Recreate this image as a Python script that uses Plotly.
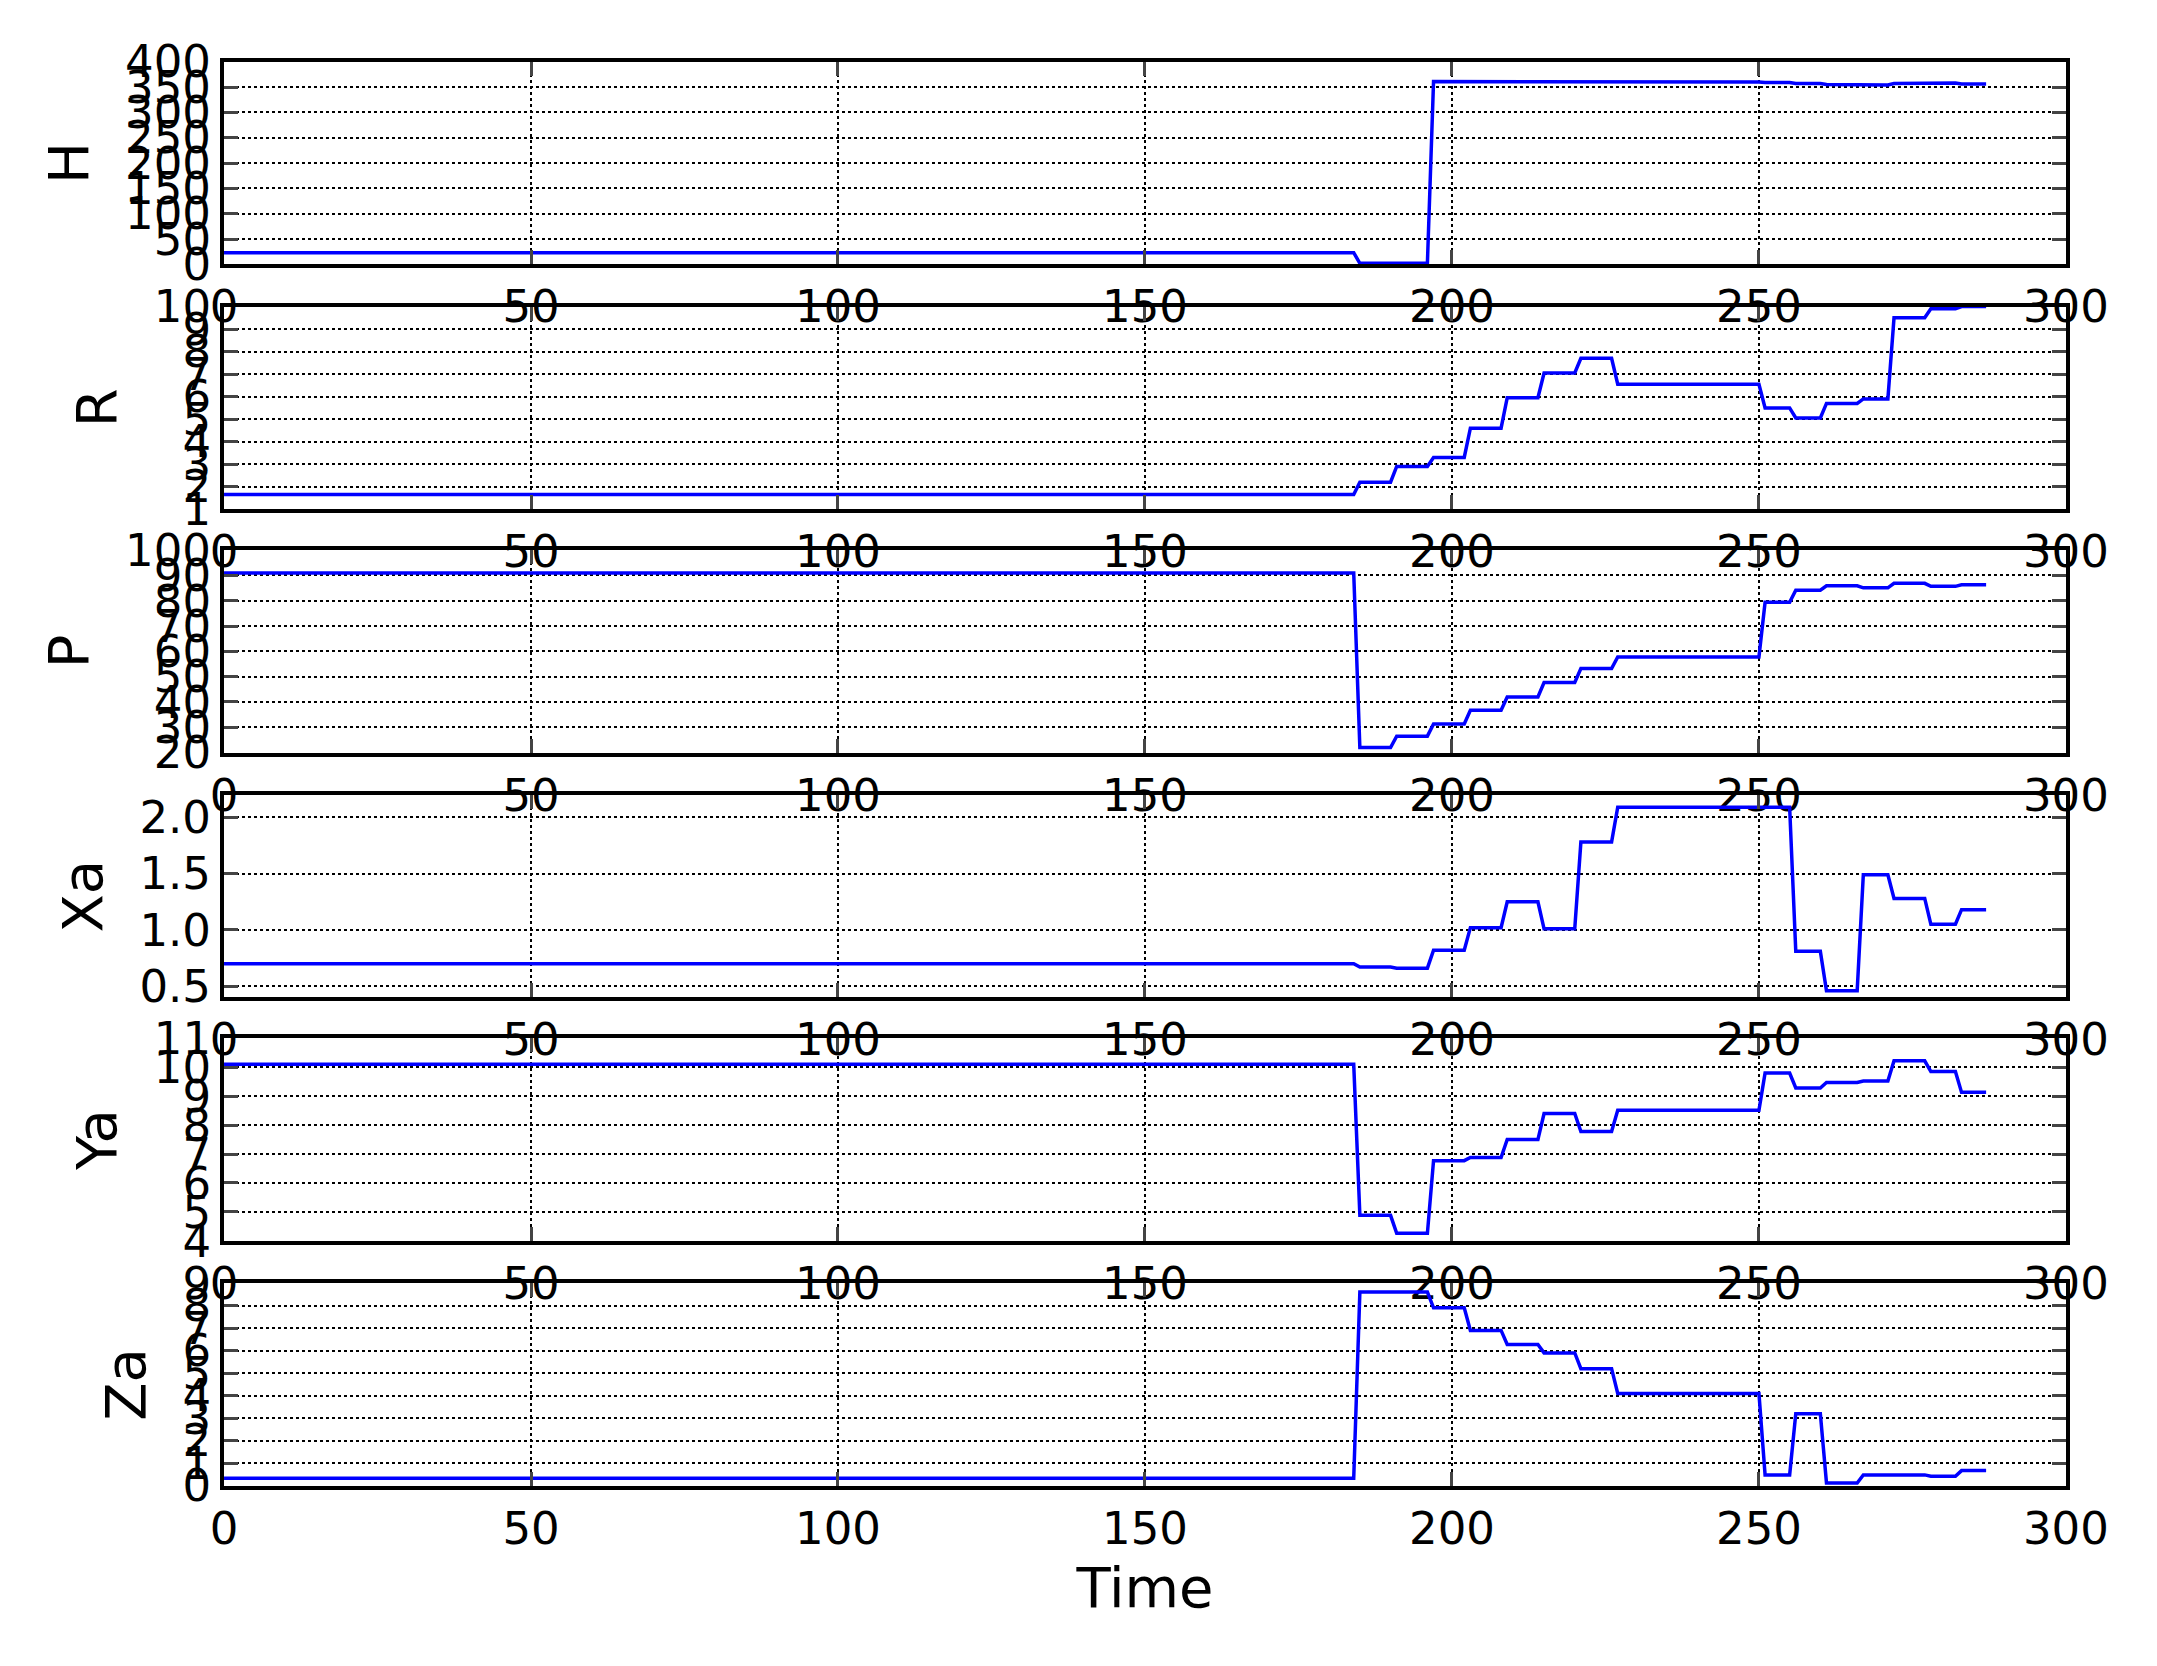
import numpy as np
import plotly.graph_objects as go

# start time of each constant segment (data runs 0..287, one sample per step)
seg_start = [0, 185, 191, 197, 203, 209, 215, 221, 227, 251, 256, 261, 267, 272, 278, 283]
t_end = 287

H_vals = [23, 2, 2, 361, 361, 361, 360, 360, 360, 359, 357, 355, 354, 357, 358, 356]
R_vals = [1.65, 2.2, 2.9, 3.3, 4.6, 5.95, 7.05, 7.7, 6.55, 5.5, 5.05, 5.7, 5.9, 9.5, 9.9, 10.0]
P_vals = [91, 22, 26.5, 31.3, 36.7, 42, 47.7, 53.2, 57.8, 79.4, 84.2, 85.9, 85.1, 86.9, 85.7, 86.3]
Xa_vals = [0.70, 0.67, 0.66, 0.82, 1.02, 1.25, 1.01, 1.78, 2.09, 2.09, 0.81, 0.46, 1.49, 1.28, 1.05, 1.18]
Ya_vals = [10.1, 4.88, 4.26, 6.77, 6.88, 7.5, 8.4, 7.78, 8.51, 9.8, 9.28, 9.47, 9.52, 10.22, 9.85, 9.13]
Za_vals = [0.33, 8.6, 8.6, 7.9, 6.9, 6.27, 5.9, 5.2, 4.1, 0.48, 3.2, 0.12, 0.48, 0.48, 0.42, 0.67]

names = ["H", "R", "P", "Xa", "Ya", "Za"]
series = [H_vals, R_vals, P_vals, Xa_vals, Ya_vals, Za_vals]
y_ranges = [[0, 400], [1, 10], [20, 100], [0.4, 2.2], [4, 11], [0, 9]]
y_ticks = [list(range(0, 401, 50)), list(range(1, 11)), list(range(20, 101, 10)),
           [0.5, 1.0, 1.5, 2.0], list(range(4, 12)), list(range(0, 10))]
x_ticks = [0, 50, 100, 150, 200, 250, 300]

t = np.arange(0, t_end + 1)
lengths = np.diff(seg_start + [t_end + 1])

# panel top/bottom as fraction of page height (from top)
panels = [(0.0172, 0.1428), (0.169, 0.2946), (0.32, 0.4455),
          (0.4717, 0.5973), (0.6226, 0.7482), (0.7744, 0.900)]

fig = go.Figure()
font = dict(family="DejaVu Sans", size=45, color="black")
tfont = dict(family="DejaVu Sans", size=56, color="black")
for i, (name, vals) in enumerate(zip(names, series)):
    n = "" if i == 0 else str(i + 1)
    y = np.repeat(vals, lengths)
    fig.add_trace(go.Scatter(x=t, y=y, mode="lines", line=dict(color="blue", width=3.5),
                             xaxis="x" + n, yaxis="y" + n, showlegend=False))
    top, bot = panels[i]
    ax = dict(range=[0, 300], tickvals=x_ticks, showgrid=True, gridcolor="black",
              griddash="dot", gridwidth=2, showline=True, linecolor="black", linewidth=4,
              mirror="ticks", ticks="inside", ticklen=14, tickwidth=3, tickfont=font,
              zeroline=False, domain=[0.0962, 0.9733], anchor="y" + n)
    ay = dict(range=y_ranges[i], tickvals=y_ticks[i], showgrid=True, gridcolor="black",
              griddash="dot", gridwidth=2, showline=True, linecolor="black", linewidth=4,
              mirror="ticks", ticks="inside", ticklen=14, tickwidth=3, tickfont=font,
              zeroline=False, domain=[1 - bot, 1 - top], anchor="x" + n,
              title=dict(text=name, font=tfont, standoff=20))
    if i == 3:
        ay["ticktext"] = ["0.5", "1.0", "1.5", "2.0"]
    if i == 5:
        ax["title"] = dict(text="Time", font=tfont)
    fig.update_layout(**{"xaxis" + n: ax, "yaxis" + n: ay})

fig.update_layout(width=2157, height=1666, margin=dict(l=0, r=0, t=0, b=0),
                  plot_bgcolor="white", paper_bgcolor="white")
fig.write_html("out.html")
